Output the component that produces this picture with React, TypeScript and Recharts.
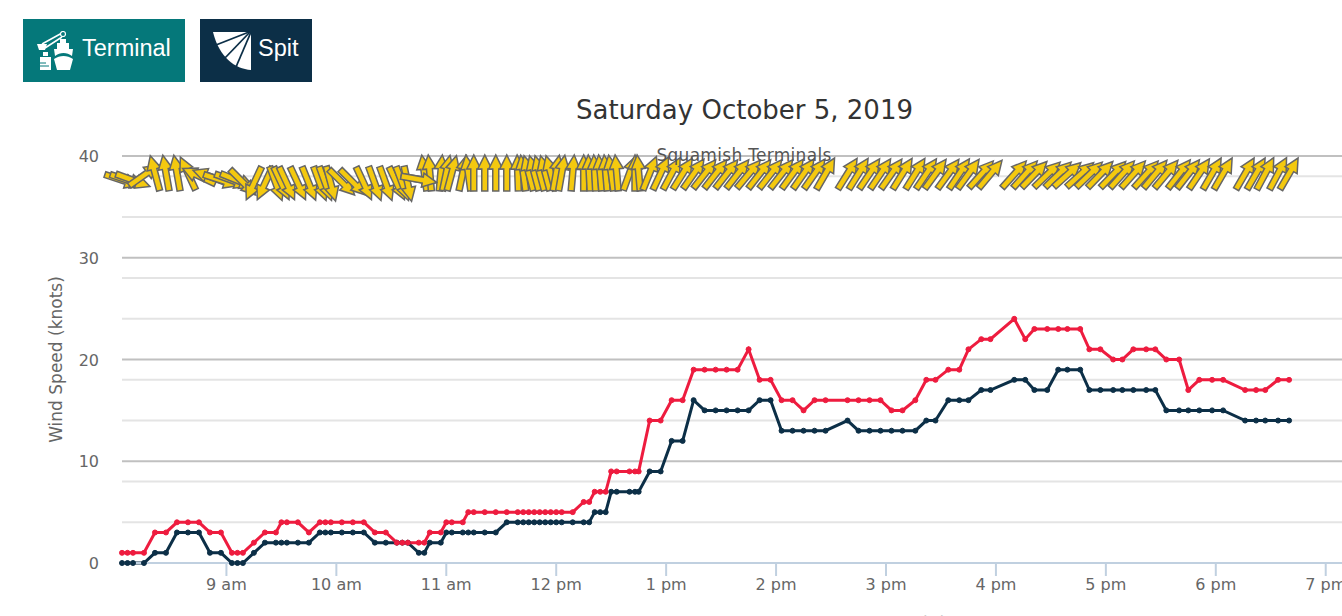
import { CartesianGrid, Line, LineChart, XAxis, YAxis } from 'recharts';

// minutes since midnight for each reading
const times = [
  483, 486, 489, 495, 501, 507, 513, 519, 525, 531, 537, 543, 546, 549, 555, 561, 567, 570, 573,
  579, 585, 591, 594, 597, 603, 609, 615, 621, 627, 633, 636, 639, 645, 648, 651, 657, 660,
  663, 669, 672, 675, 681, 687, 693, 699, 702, 705, 708, 711, 714, 717, 720, 723, 729, 735, 738,
  741, 744, 747, 750, 753, 760, 763, 765, 771, 777, 783, 789, 795, 801, 807, 813, 819, 825, 831,
  837, 843, 849, 855, 861, 867, 879, 885, 891, 897, 903,
  909, 916, 922, 927, 934, 940, 945, 952, 957, 970, 976, 981, 988, 994, 999, 1006, 1011, 1017,
  1024, 1029, 1035, 1042, 1047, 1053, 1060, 1065, 1071, 1078, 1084, 1096, 1102, 1107, 1114, 1120,
];

const average = [
  0, 0, 0, 0, 1, 1, 3, 3, 3, 1, 1, 0, 0, 0, 1, 2, 2, 2, 2,
  2, 2, 3, 3, 3, 3, 3, 3, 2, 2, 2, 2, 2, 1, 1, 2, 2, 3,
  3, 3, 3, 3, 3, 3, 4, 4, 4, 4, 4, 4, 4, 4, 4, 4, 4, 4, 4,
  5, 5, 5, 7, 7, 7, 7, 7, 9, 9, 12, 12, 16, 15, 15, 15, 15, 15, 16,
  16, 13, 13, 13, 13, 13, 14, 13, 13, 13, 13,
  13, 13, 14, 14, 16, 16, 16, 17, 17, 18, 18, 17, 17, 19, 19, 19, 17, 17,
  17, 17, 17, 17, 17, 15, 15, 15, 15, 15, 15, 14, 14, 14, 14, 14,
];

const gust = [
  1, 1, 1, 1, 3, 3, 4, 4, 4, 3, 3, 1, 1, 1, 2, 3, 3, 4, 4,
  4, 3, 4, 4, 4, 4, 4, 4, 3, 3, 2, 2, 2, 2, 2, 3, 3, 4,
  4, 4, 5, 5, 5, 5, 5, 5, 5, 5, 5, 5, 5, 5, 5, 5, 5, 6, 6,
  7, 7, 7, 9, 9, 9, 9, 9, 14, 14, 16, 16, 19, 19, 19, 19, 19, 21, 18,
  18, 16, 16, 15, 16, 16, 16, 16, 16, 16, 15,
  15, 16, 18, 18, 19, 19, 21, 22, 22, 24, 22, 23, 23, 23, 23, 23, 21, 21,
  20, 20, 21, 21, 21, 20, 20, 17, 18, 18, 18, 17, 17, 17, 18, 18,
];

// direction the wind arrow points, degrees clockwise from straight up
const direction = [
  108, 108, 110, 55, -15, -10, -10, -25, -65, -70, 108, 110, 112, 135, 205, 205, 160, 155, 155,
  155, 158, 160, 160, 165, 135, 135, 155, 160, 160, 155, 160, 168, 100, -8, -5, 5, 12,
  15, 12, -8, 0, 0, 0, 0, -2, -8, -15, -15, -15, -15, -15, 10, 10, 5, 0, -3,
  -3, -5, -5, -8, -5, 20, 0, -5, 22, 25, 28, 32, 35, 38, 38, 38, 38, 40, 38,
  38, 38, 36, 35, 35, 30, 32, 32, 34, 34, 35,
  32, 32, 34, 36, 36, 34, 36, 42, 40, 42, 42, 44, 46, 46, 48, 48, 46, 44,
  44, 42, 42, 42, 40, 40, 38, 38, 34, 30, 30, 30, 30, 28, 28, 30,
];

const hourTicks = [540, 600, 660, 720, 780, 840, 900, 960, 1020, 1080, 1140];
const hourLabels = ['9 am', '10 am', '11 am', '12 pm', '1 pm', '2 pm', '3 pm', '4 pm', '5 pm', '6 pm', '7 pm'];
const majorTicks = [0, 10, 20, 30, 40];
const minorTicks = [2, 4, 6, 8, 12, 14, 16, 18, 22, 24, 26, 28, 32, 34, 36, 38];

const ARROW_LEVEL = 37.8;
// this reading's arrow sits on top of its neighbours in the original
const arrowsOnTop = [645];
const legendItems = [
  { name: 'Average', color: '#222222', left: 568 },
  { name: 'Gust', color: '#222222', left: 704 },
  { name: 'Temperature (C)', color: '#cccccc', left: 808 },
];

const chartData = times.map((time, i) => ({
  time,
  average: average[i],
  gust: gust[i],
  direction: direction[i],
  arrowLevel: ARROW_LEVEL,
}));

const FONT = '"DejaVu Sans", sans-serif';

function WindArrow(props: any) {
  const { cx, cy, payload, index } = props;
  const rot = payload.direction;
  const lift = -5.5 * Math.cos((rot * Math.PI) / 180);
  return (
    <polygon
      key={index}
      points="0,-18 7,-4 3,-4 3,18 -3,18 -3,-4 -7,-4"
      transform={`translate(${cx},${cy + lift}) rotate(${rot})`}
      fill="#f4c90f"
      stroke="#666666"
      strokeWidth={1.5}
    />
  );
}

function TerminalIcon() {
  return (
    <svg width={38} height={40} viewBox="0 0 38 40" style={{ position: 'absolute', left: 13, top: 12 }}>
      <g fill="#fff">
        <path d="M1 13 H11 L9 19 H3z" />
        <path d="M7 21 H12 V25 H7z" />
        <path d="M4 26 H15 V39 H4z" />
        <path d="M24 8 H30 V12 H24z" />
        <path d="M21 12 H33 V18 H21z" />
        <path d="M18 18 H37 L36 25 C31 21 24 21 19 25z" />
        <path d="M18 28 C24 24 31 24 37 28 L34 39 H21z" />
      </g>
      <path d="M6 13 L26 2 M9 17 L26 6" stroke="#fff" strokeWidth={1.5} fill="none" />
      <circle cx={27} cy={3} r={2.5} fill="#05787a" stroke="#fff" strokeWidth={1.2} />
      <path d="M4 32 h6 M4 35 h9" stroke="#05787a" strokeWidth={1} />
    </svg>
  );
}

function FanIcon() {
  return (
    <svg width={40} height={40} viewBox="0 0 40 40" style={{ position: 'absolute', left: 13, top: 12 }}>
      <path d="M0 1 H38 V39 C22 38 6 26 0 1z" fill="#fff" />
      <g stroke="#0c2f47" strokeWidth={1.8}>
        <path d="M36 1 L3 14" />
        <path d="M37 1 L11 28" />
        <path d="M38 1 L23 36" />
      </g>
    </svg>
  );
}

function HourTick(props: any) {
  const { x, y, payload, index } = props;
  return (
    <text x={x} y={y + 12} textAnchor="middle" fill="#666666" fontSize={16} fontFamily={FONT}>
      {hourLabels[index] ?? payload.value}
    </text>
  );
}

function ValueTick(props: any) {
  const { x, y, payload } = props;
  return (
    <text x={x} y={y + 6} textAnchor="end" fill="#666666" fontSize={16} fontFamily={FONT}>
      {payload.value}
    </text>
  );
}

export default function App() {
  return (
    <div
      style={{
        position: 'absolute',
        left: 0,
        top: 0,
        width: 1342,
        height: 616,
        overflow: 'hidden',
        background: '#fff',
      }}
    >
      <div style={btnStyle(23, 162, '#05787a')}>
        <TerminalIcon />
        <span style={{ position: 'absolute', left: 59, top: 16 }}>Terminal</span>
      </div>
      <div style={btnStyle(200, 112, '#0c2f47')}>
        <FanIcon />
        <span style={{ position: 'absolute', left: 58, top: 16 }}>Spit</span>
      </div>

      <div style={{ position: 'absolute', left: 0, top: 0 }}>
        <LineChart
          width={1399}
          height={680}
          data={chartData}
          margin={{ top: 156, right: 0, bottom: 57, left: 0 }}
        >
          <CartesianGrid horizontalValues={minorTicks} vertical={false} stroke="#e4e4e4" strokeWidth={2} />
          <CartesianGrid horizontalValues={majorTicks.slice(1)} vertical={false} stroke="#c0c0c0" strokeWidth={2} />
          <XAxis
            dataKey="time"
            type="number"
            domain={[483, 1180]}
            ticks={hourTicks}
            interval={0}
            height={60}
            tickSize={13}
            tick={<HourTick />}
            tickLine={{ stroke: '#c0d0e0', strokeWidth: 2 }}
            axisLine={{ stroke: '#c0d0e0', strokeWidth: 2 }}
          />
          <YAxis
            type="number"
            domain={[0, 40]}
            ticks={majorTicks}
            width={122}
            tickSize={0}
            tickMargin={23}
            axisLine={false}
            tickLine={false}
            tick={<ValueTick />}
            label={{
              value: 'Wind Speed (knots)',
              angle: -90,
              position: 'insideLeft',
              offset: 56,
              style: { fill: '#666666', fontSize: 17, fontFamily: FONT, textAnchor: 'middle' },
            }}
          />
          <Line
            dataKey="arrowLevel"
            stroke="none"
            isAnimationActive={false}
            dot={<WindArrow />}
            activeDot={false}
          />
          <Line
            data={chartData.filter((row) => arrowsOnTop.includes(row.time))}
            dataKey="arrowLevel"
            stroke="none"
            isAnimationActive={false}
            dot={<WindArrow />}
            activeDot={false}
          />
          <Line
            dataKey="average"
            stroke="#0c2f47"
            strokeWidth={3}
            dot={{ r: 2.5, fill: '#0c2f47', stroke: '#0c2f47', strokeWidth: 1 }}
            isAnimationActive={false}
          />
          <Line
            dataKey="gust"
            stroke="#ee1c3f"
            strokeWidth={3}
            dot={{ r: 2.5, fill: '#ee1c3f', stroke: '#ee1c3f', strokeWidth: 1 }}
            isAnimationActive={false}
          />
        </LineChart>
      </div>

      <div
        style={{
          position: 'absolute',
          left: 0,
          width: 1489,
          top: 95,
          textAlign: 'center',
          fontFamily: FONT,
          fontSize: 26,
          color: '#333333',
        }}
      >
        Saturday October 5, 2019
      </div>
      <div
        style={{
          position: 'absolute',
          left: 0,
          width: 1488,
          top: 145,
          textAlign: 'center',
          fontFamily: FONT,
          fontSize: 17,
          letterSpacing: 0.3,
          color: '#555555',
        }}
      >
        Squamish Terminals
      </div>
      {legendItems.map((item) => (
        <div
          key={item.name}
          style={{
            position: 'absolute',
            left: item.left,
            top: 613,
            fontFamily: FONT,
            fontSize: 17,
            fontWeight: item.color === '#222222' ? 700 : 400,
            color: item.color,
            whiteSpace: 'nowrap',
          }}
        >
          {item.name}
        </div>
      ))}
    </div>
  );
}

function btnStyle(left: number, width: number, background: string) {
  return {
    position: 'absolute' as const,
    left,
    top: 19,
    width,
    height: 63,
    background,
    color: '#fff',
    fontFamily: '"Liberation Sans", Arial, sans-serif',
    fontSize: 23.5,
  };
}
